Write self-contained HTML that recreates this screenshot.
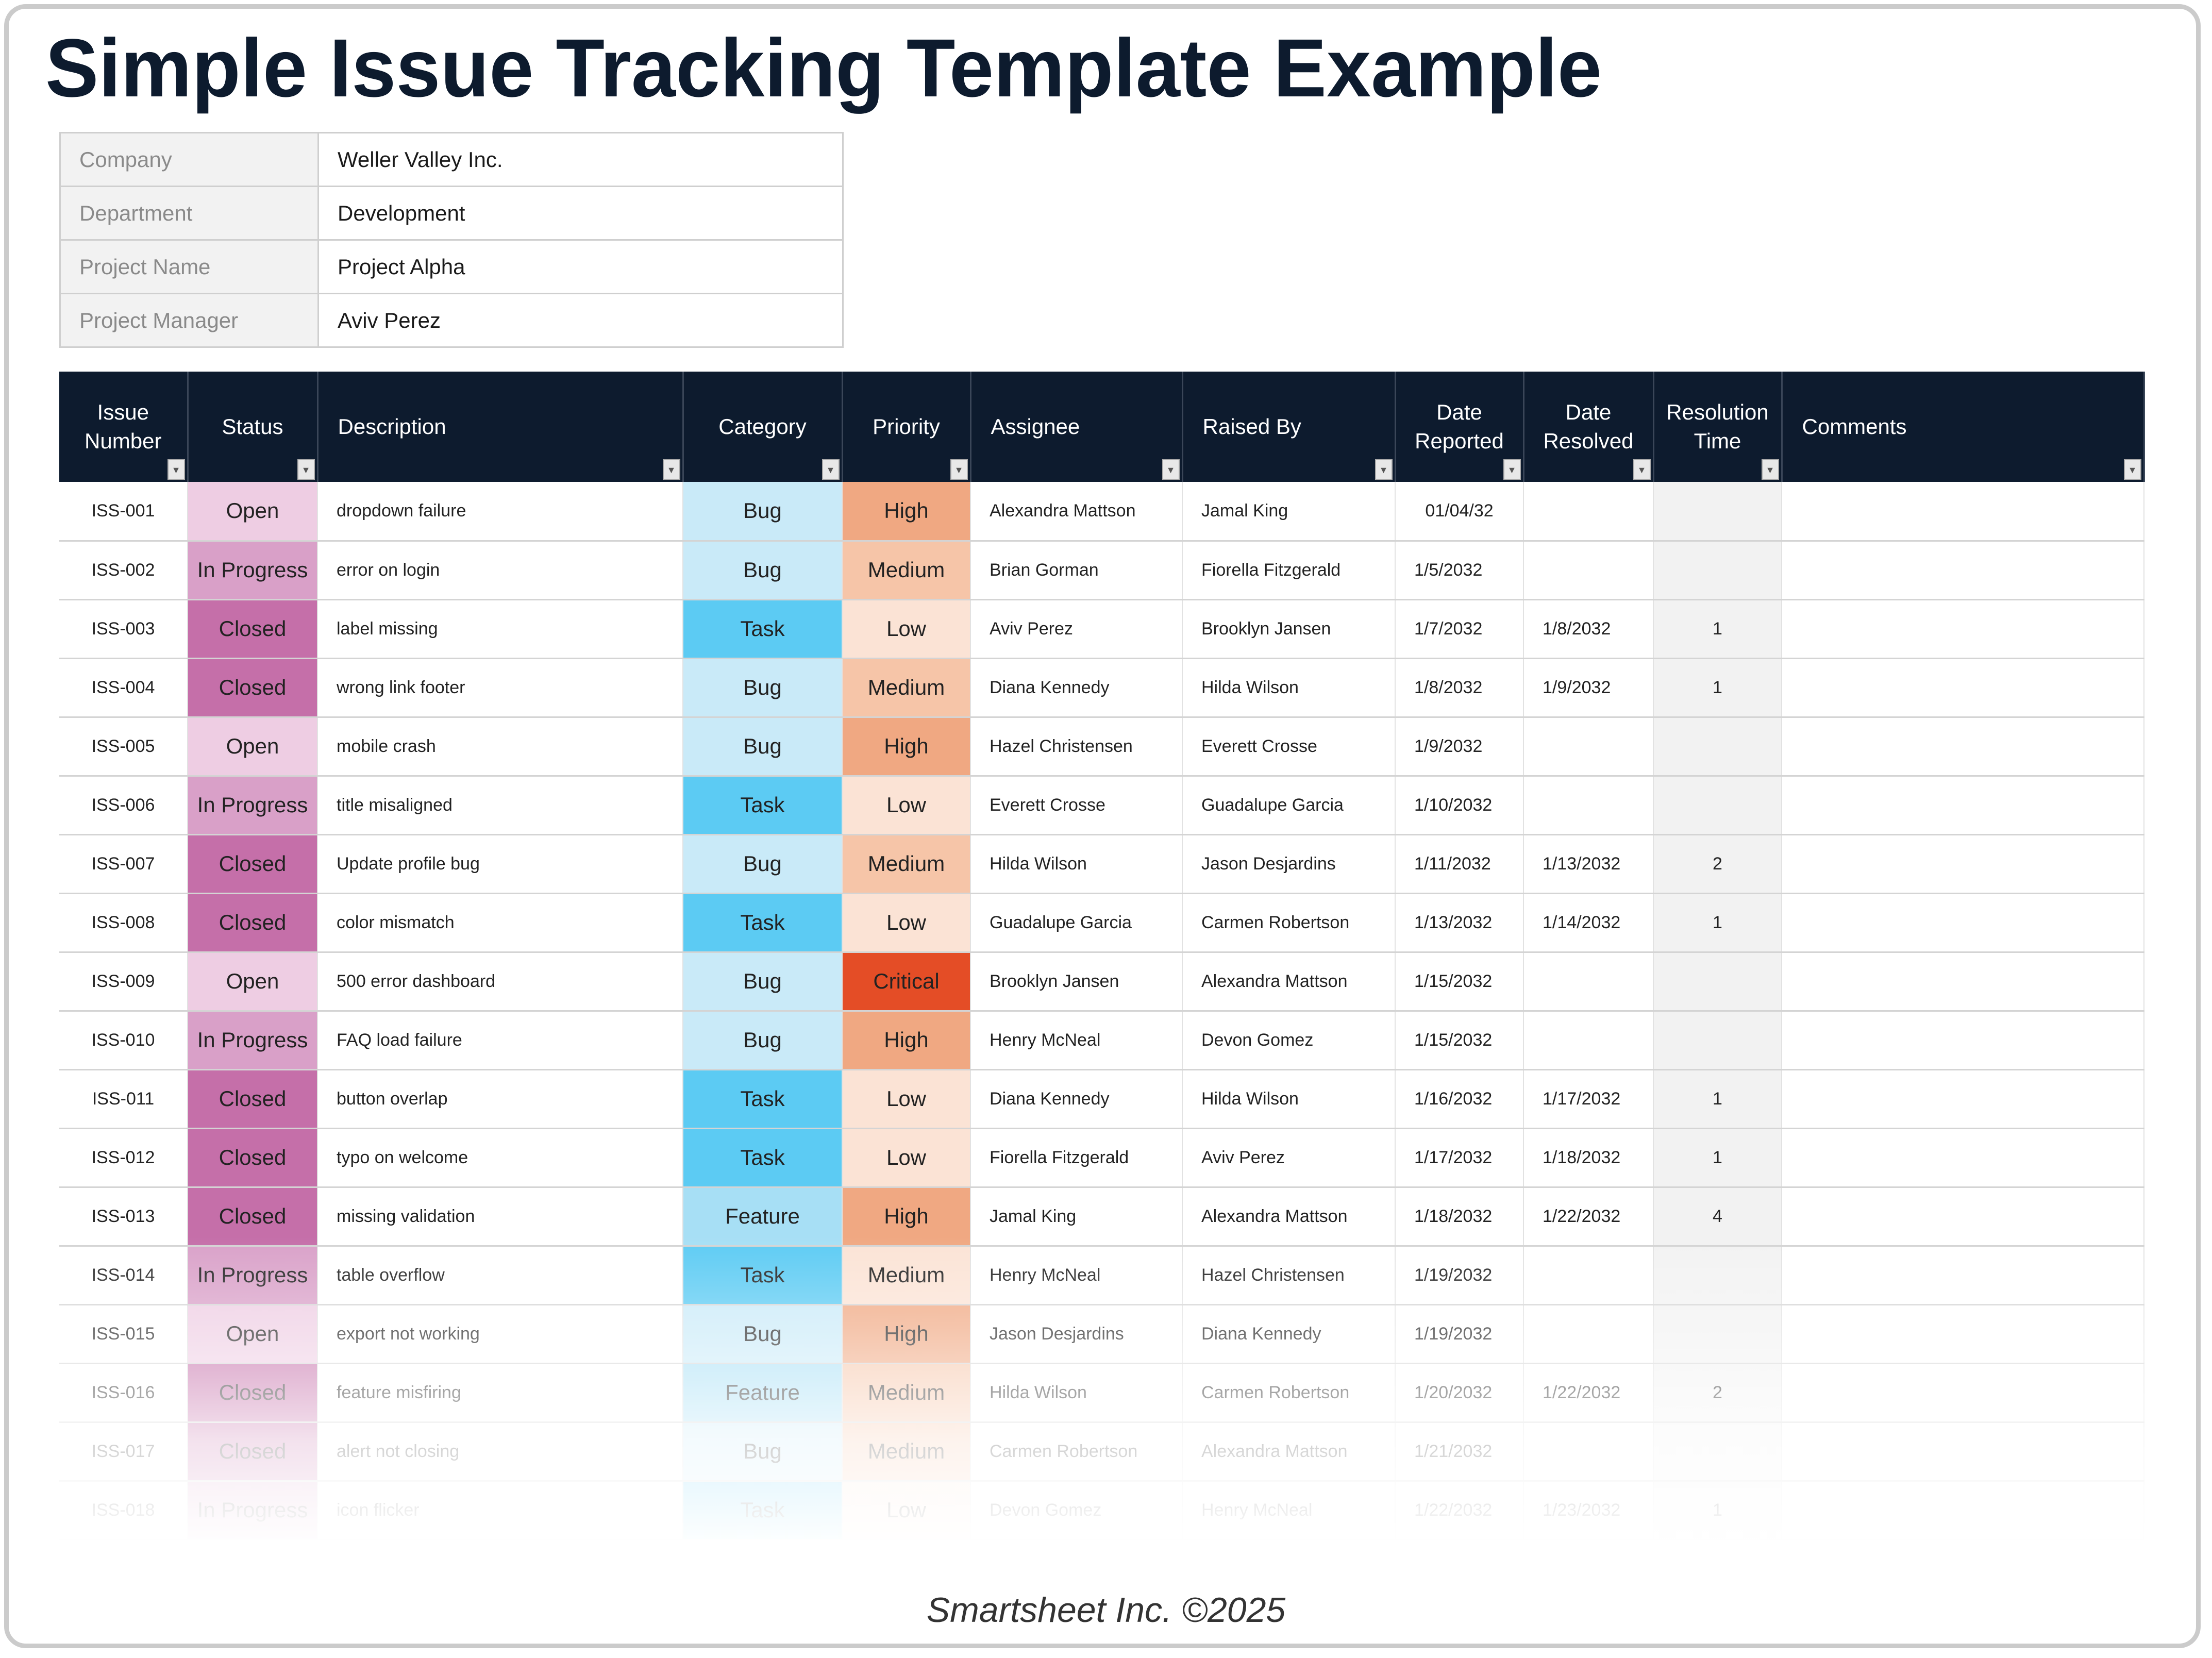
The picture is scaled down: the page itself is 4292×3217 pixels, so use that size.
<!DOCTYPE html>
<html><head><meta charset="utf-8">
<style>
html,body{margin:0;padding:0;}
body{width:4292px;height:3217px;position:relative;background:#fff;overflow:hidden;font-family:"Liberation Sans",sans-serif;}
.card{position:absolute;left:8px;top:8px;width:4262px;height:3190px;border:9px solid #cbcbcb;border-radius:42px;box-sizing:border-box;background:#fff;}
.title{position:absolute;left:88px;top:40px;}
.info{position:absolute;left:115px;top:256px;border-collapse:collapse;}
.info td{border:3px solid #cfcfcf;height:104px;font-size:42px;padding:0 0 0 36px;box-sizing:border-box;}
.info td.l{width:501px;background:#f2f2f2;color:#8a8a8a;}
.info td.v{width:1018px;color:#1a1a1a;}
.main{position:absolute;left:115px;top:721px;border-collapse:collapse;table-layout:fixed;width:4045px;}
.main th{background:#0d1b2e;color:#fff;font-weight:normal;font-size:42px;height:214px;line-height:56px;position:relative;border-right:3px solid #3a4658;padding:0;}
.main th.l{text-align:left;padding-left:38px;}
.main th .dd{position:absolute;right:4px;bottom:4px;width:34px;height:40px;background:#e8e8e8;border:2px solid #aaa;box-sizing:border-box;color:#555;font-size:18px;line-height:38px;text-align:center;}
.main td{height:114px;border-bottom:3px solid #d4d4d4;border-right:2px solid #e2e2e2;font-size:34px;color:#222;padding:0;box-sizing:border-box;}
.main td.c{text-align:center;}
.main td.l{padding-left:36px;}
.main td.b{font-size:42px;text-align:center;}
.op{background:#eecde3}.ip{background:#d9a0c8}.cl{background:#c56fa9}
.bug{background:#c9eaf8}.task{background:#5ccbf3}.feat{background:#a7dff5}
.hi{background:#f0a882}.me{background:#f6c5a8}.lo{background:#fbe3d5}.cr{background:#e44d26}
.rt{background:#f2f2f2}
.fade{position:absolute;left:100px;top:2400px;width:4100px;height:610px;background:linear-gradient(to bottom,rgba(255,255,255,0) 0%,rgba(255,255,255,0.35) 30%,rgba(255,255,255,0.8) 65%,#fff 100%);}
.foot{position:absolute;left:0;width:4292px;top:3085px;text-align:center;font-style:italic;font-size:68px;color:#333;}
</style></head><body>
<div class="card"></div>
<svg class="title" width="3100" height="200"><text x="0" y="147" font-family="Liberation Sans, sans-serif" font-weight="bold" font-size="160" fill="#0d1b2e" textLength="3020" lengthAdjust="spacingAndGlyphs">Simple Issue Tracking Template Example</text></svg>
<table class="info">
<tr><td class="l">Company</td><td class="v">Weller Valley Inc.</td></tr>
<tr><td class="l">Department</td><td class="v">Development</td></tr>
<tr><td class="l">Project Name</td><td class="v">Project Alpha</td></tr>
<tr><td class="l">Project Manager</td><td class="v">Aviv Perez</td></tr>
</table>
<table class="main">
<colgroup><col style="width:249px"><col style="width:252px"><col style="width:709px"><col style="width:309px"><col style="width:249px"><col style="width:411px"><col style="width:413px"><col style="width:249px"><col style="width:252px"><col style="width:249px"><col style="width:703px"></colgroup>
<tr>
<th>Issue<br>Number<div class="dd">▼</div></th>
<th>Status<div class="dd">▼</div></th>
<th class="l">Description<div class="dd">▼</div></th>
<th>Category<div class="dd">▼</div></th>
<th>Priority<div class="dd">▼</div></th>
<th class="l">Assignee<div class="dd">▼</div></th>
<th class="l">Raised By<div class="dd">▼</div></th>
<th>Date<br>Reported<div class="dd">▼</div></th>
<th>Date<br>Resolved<div class="dd">▼</div></th>
<th>Resolution<br>Time<div class="dd">▼</div></th>
<th class="l">Comments<div class="dd">▼</div></th>
</tr>
<tr><td class="c">ISS-001</td><td class="b op">Open</td><td class="l">dropdown failure</td><td class="b bug">Bug</td><td class="b hi">High</td><td class="l">Alexandra Mattson</td><td class="l">Jamal King</td><td class="c">01/04/32</td><td class="l"></td><td class="c rt"></td><td></td></tr>
<tr><td class="c">ISS-002</td><td class="b ip">In Progress</td><td class="l">error on login</td><td class="b bug">Bug</td><td class="b me">Medium</td><td class="l">Brian Gorman</td><td class="l">Fiorella Fitzgerald</td><td class="l">1/5/2032</td><td class="l"></td><td class="c rt"></td><td></td></tr>
<tr><td class="c">ISS-003</td><td class="b cl">Closed</td><td class="l">label missing</td><td class="b task">Task</td><td class="b lo">Low</td><td class="l">Aviv Perez</td><td class="l">Brooklyn Jansen</td><td class="l">1/7/2032</td><td class="l">1/8/2032</td><td class="c rt">1</td><td></td></tr>
<tr><td class="c">ISS-004</td><td class="b cl">Closed</td><td class="l">wrong link footer</td><td class="b bug">Bug</td><td class="b me">Medium</td><td class="l">Diana Kennedy</td><td class="l">Hilda Wilson</td><td class="l">1/8/2032</td><td class="l">1/9/2032</td><td class="c rt">1</td><td></td></tr>
<tr><td class="c">ISS-005</td><td class="b op">Open</td><td class="l">mobile crash</td><td class="b bug">Bug</td><td class="b hi">High</td><td class="l">Hazel Christensen</td><td class="l">Everett Crosse</td><td class="l">1/9/2032</td><td class="l"></td><td class="c rt"></td><td></td></tr>
<tr><td class="c">ISS-006</td><td class="b ip">In Progress</td><td class="l">title misaligned</td><td class="b task">Task</td><td class="b lo">Low</td><td class="l">Everett Crosse</td><td class="l">Guadalupe Garcia</td><td class="l">1/10/2032</td><td class="l"></td><td class="c rt"></td><td></td></tr>
<tr><td class="c">ISS-007</td><td class="b cl">Closed</td><td class="l">Update profile bug</td><td class="b bug">Bug</td><td class="b me">Medium</td><td class="l">Hilda Wilson</td><td class="l">Jason Desjardins</td><td class="l">1/11/2032</td><td class="l">1/13/2032</td><td class="c rt">2</td><td></td></tr>
<tr><td class="c">ISS-008</td><td class="b cl">Closed</td><td class="l">color mismatch</td><td class="b task">Task</td><td class="b lo">Low</td><td class="l">Guadalupe Garcia</td><td class="l">Carmen Robertson</td><td class="l">1/13/2032</td><td class="l">1/14/2032</td><td class="c rt">1</td><td></td></tr>
<tr><td class="c">ISS-009</td><td class="b op">Open</td><td class="l">500 error dashboard</td><td class="b bug">Bug</td><td class="b cr">Critical</td><td class="l">Brooklyn Jansen</td><td class="l">Alexandra Mattson</td><td class="l">1/15/2032</td><td class="l"></td><td class="c rt"></td><td></td></tr>
<tr><td class="c">ISS-010</td><td class="b ip">In Progress</td><td class="l">FAQ load failure</td><td class="b bug">Bug</td><td class="b hi">High</td><td class="l">Henry McNeal</td><td class="l">Devon Gomez</td><td class="l">1/15/2032</td><td class="l"></td><td class="c rt"></td><td></td></tr>
<tr><td class="c">ISS-011</td><td class="b cl">Closed</td><td class="l">button overlap</td><td class="b task">Task</td><td class="b lo">Low</td><td class="l">Diana Kennedy</td><td class="l">Hilda Wilson</td><td class="l">1/16/2032</td><td class="l">1/17/2032</td><td class="c rt">1</td><td></td></tr>
<tr><td class="c">ISS-012</td><td class="b cl">Closed</td><td class="l">typo on welcome</td><td class="b task">Task</td><td class="b lo">Low</td><td class="l">Fiorella Fitzgerald</td><td class="l">Aviv Perez</td><td class="l">1/17/2032</td><td class="l">1/18/2032</td><td class="c rt">1</td><td></td></tr>
<tr><td class="c">ISS-013</td><td class="b cl">Closed</td><td class="l">missing validation</td><td class="b feat">Feature</td><td class="b hi">High</td><td class="l">Jamal King</td><td class="l">Alexandra Mattson</td><td class="l">1/18/2032</td><td class="l">1/22/2032</td><td class="c rt">4</td><td></td></tr>
<tr><td class="c">ISS-014</td><td class="b ip">In Progress</td><td class="l">table overflow</td><td class="b task">Task</td><td class="b lo">Medium</td><td class="l">Henry McNeal</td><td class="l">Hazel Christensen</td><td class="l">1/19/2032</td><td class="l"></td><td class="c rt"></td><td></td></tr>
<tr><td class="c">ISS-015</td><td class="b op">Open</td><td class="l">export not working</td><td class="b bug">Bug</td><td class="b hi">High</td><td class="l">Jason Desjardins</td><td class="l">Diana Kennedy</td><td class="l">1/19/2032</td><td class="l"></td><td class="c rt"></td><td></td></tr>
<tr><td class="c">ISS-016</td><td class="b cl">Closed</td><td class="l">feature misfiring</td><td class="b feat">Feature</td><td class="b me">Medium</td><td class="l">Hilda Wilson</td><td class="l">Carmen Robertson</td><td class="l">1/20/2032</td><td class="l">1/22/2032</td><td class="c rt">2</td><td></td></tr>
<tr><td class="c">ISS-017</td><td class="b cl">Closed</td><td class="l">alert not closing</td><td class="b bug">Bug</td><td class="b me">Medium</td><td class="l">Carmen Robertson</td><td class="l">Alexandra Mattson</td><td class="l">1/21/2032</td><td class="l"></td><td class="c rt"></td><td></td></tr>
<tr><td class="c">ISS-018</td><td class="b ip">In Progress</td><td class="l">icon flicker</td><td class="b task">Task</td><td class="b lo">Low</td><td class="l">Devon Gomez</td><td class="l">Henry McNeal</td><td class="l">1/22/2032</td><td class="l">1/23/2032</td><td class="c rt">1</td><td></td></tr>
</table>
<div class="fade"></div>
<div class="foot">Smartsheet Inc. ©2025</div>
</body></html>
